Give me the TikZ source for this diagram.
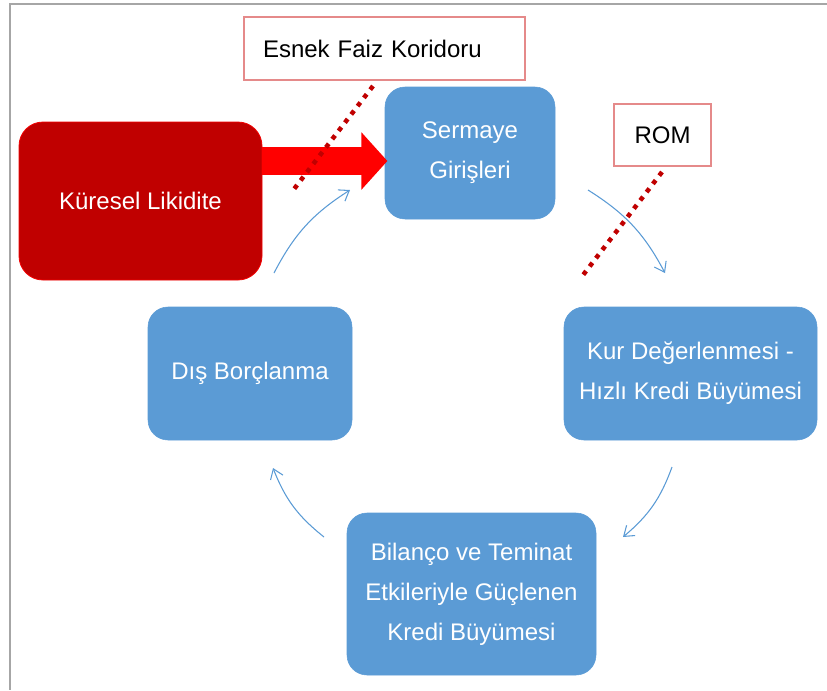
\documentclass[tikz,border=0pt]{standalone}
\usepackage{fontspec}
\setmainfont{Liberation Sans}
\usetikzlibrary{arrows.meta}
\definecolor{boxblue}{HTML}{5B9BD5}
\definecolor{darkred}{HTML}{C00000}
\definecolor{pinkline}{HTML}{E58A8A}
\definecolor{framegray}{HTML}{A6A6A6}
\begin{document}
\begin{tikzpicture}[x=0.75pt,y=0.75pt,
  txt/.style={font=\fontsize{18pt}{30pt}\selectfont, align=center},
  bluebox/.style={txt, fill=boxblue, draw=boxblue, text=white, rounded corners=15pt, inner sep=0pt},
  redbox/.style={txt, fill=darkred, draw=red!80!darkred, line width=0.6pt, text=white, rounded corners=18pt, inner sep=0pt},
  labelbox/.style={txt, draw=pinkline, line width=1.1pt, fill=white, text=black, inner sep=0pt},
  cyc/.style={draw=boxblue, line width=0.8pt, -{Straight Barb[length=7pt,width=10pt,line width=0.8pt]}, bend left=15},
  dots/.style={draw=darkred, line width=3.4pt, dash pattern=on 3.4pt off 4.4pt}
]
\useasboundingbox (0,0) rectangle (827,-690);
% frame
\coordinate (ftr) at (827,-4);
\coordinate (ftl) at (10,-4);
\coordinate (fbl) at (10,-690);
\draw[framegray, line width=1.2pt] (ftr) -- (ftl) -- (fbl);

% boxes
\node[redbox, minimum width=182.25pt, minimum height=118.5pt] (kl) at (140.5,-201) {Küresel Likidite};
\node[bluebox, minimum width=127.5pt, minimum height=99pt] (sg) at (470,-153) {\raisebox{-2pt}{Sermaye}\\\raisebox{-2pt}{Girişleri}};
\node[bluebox, minimum width=189.75pt, minimum height=99.75pt] (kur) at (690.5,-373.5) {Kur Değerlenmesi -\\Hızlı Kredi Büyümesi};
\node[bluebox, minimum width=186.75pt, minimum height=121.5pt] (bil) at (471.5,-594) {Bilanço ve Teminat\\Etkileriyle Güçlenen\\Kredi Büyümesi};
\node[bluebox, minimum width=153pt, minimum height=99.75pt] (dis) at (250,-373.5) {Dış Borçlanma};

% label boxes
\node[labelbox, text width=182.25pt, inner xsep=14.25pt, minimum height=47.25pt, align=left] (efk) at (384.5,-48.5) {Esnek Faiz Koridoru};
\node[labelbox, minimum width=72.75pt, minimum height=46.5pt] (rom) at (662.5,-135) {ROM};

% big red arrow
\coordinate (ry) at (0,-161);
\draw[red, line width=21pt, -{Triangle[length=19.5pt,width=42pt]}] (kl.east |- ry) -- ([xshift=2pt]sg.west |- ry);

% cycle arrows
\coordinate (a1s) at (274,-273); \coordinate (a1e) at (350,-190);
\coordinate (a2s) at (588,-190); \coordinate (a2e) at (665,-273);
\coordinate (a3s) at (672,-467); \coordinate (a3e) at (623,-537);
\coordinate (a4s) at (324,-537); \coordinate (a4e) at (273,-468);
\draw[cyc] (a1s) to (a1e);
\draw[cyc] (a2s) to (a2e);
\draw[cyc] (a3s) to (a3e);
\draw[cyc] (a4s) to (a4e);

% dotted lines
\coordinate (d1s) at (373,-86); \coordinate (d1e) at (291,-193);
\coordinate (d2s) at (662,-172); \coordinate (d2e) at (580,-279);
\draw[dots] (d1s) -- (d1e);
\draw[dots] (d2s) -- (d2e);
\end{tikzpicture}
\end{document}
